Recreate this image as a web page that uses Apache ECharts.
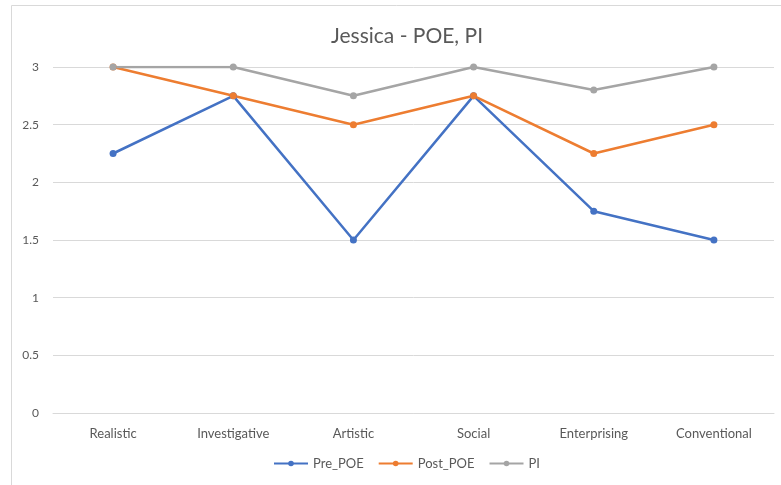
<!DOCTYPE html>
<html><head><meta charset="utf-8">
<script src="https://cdn.jsdelivr.net/npm/echarts@6/dist/echarts.min.js"></script>
<style>html,body{margin:0;padding:0;background:#fff}#c{width:781px;height:485px}</style>
</head><body><div id="c"></div>
<script>
const categories = ['Realistic','Investigative','Artistic','Social','Enterprising','Conventional'];
const prePOE = [2.25, 2.75, 1.5, 2.75, 1.75, 1.5];
const postPOE = [3, 2.75, 2.5, 2.75, 2.25, 2.5];
const PI = [3, 3, 2.75, 3, 2.8, 3];
const yTicks = [0, 0.5, 1, 1.5, 2, 2.5, 3];

const FONT = 'Lato,"Open Sans",sans-serif';
const chart = echarts.init(document.getElementById('c'));
function mk(name, data, color){
  return {name, type:'line', data, symbol:'circle', symbolSize:7,
    lineStyle:{color, width:2.5}, itemStyle:{color}, animation:false};
}
chart.setOption({
  animation:false,
  textStyle:{fontFamily:FONT},
  graphic:[{type:'rect', shape:{x:11.5,y:5.5,width:800,height:500}, style:{fill:'none', stroke:'#d9d9d9', lineWidth:1}, silent:true}],
  title:{text:'Jessica - POE, PI', left:326, top:21, textStyle:{fontFamily:FONT, fontSize:21, fontWeight:'normal', color:'#595959'}},
  legend:{left:268, bottom:10, itemWidth:34, itemHeight:7, itemGap:14, textStyle:{fontFamily:FONT, fontSize:13, color:'#595959'}},
  grid:{left:53, right:7, top:67, bottom:72},
  xAxis:{type:'category', data:categories, boundaryGap:true,
    axisLine:{lineStyle:{color:'#d9d9d9'}}, axisTick:{show:false},
    axisLabel:{fontFamily:FONT, fontSize:13, color:'#595959', margin:14}},
  yAxis:{type:'value', min:0, max:3, interval:0.5,
    axisLine:{show:false}, axisTick:{show:false},
    splitLine:{lineStyle:{color:'#d9d9d9'}},
    axisLabel:{fontFamily:FONT, fontSize:12, color:'#595959', margin:14, formatter:v=>yTicks.includes(v)?String(v):''}},
  series:[mk('Pre_POE', prePOE, '#4472C4'), mk('Post_POE', postPOE, '#ED7D31'), mk('PI', PI, '#A5A5A5')]
});
</script></body></html>
